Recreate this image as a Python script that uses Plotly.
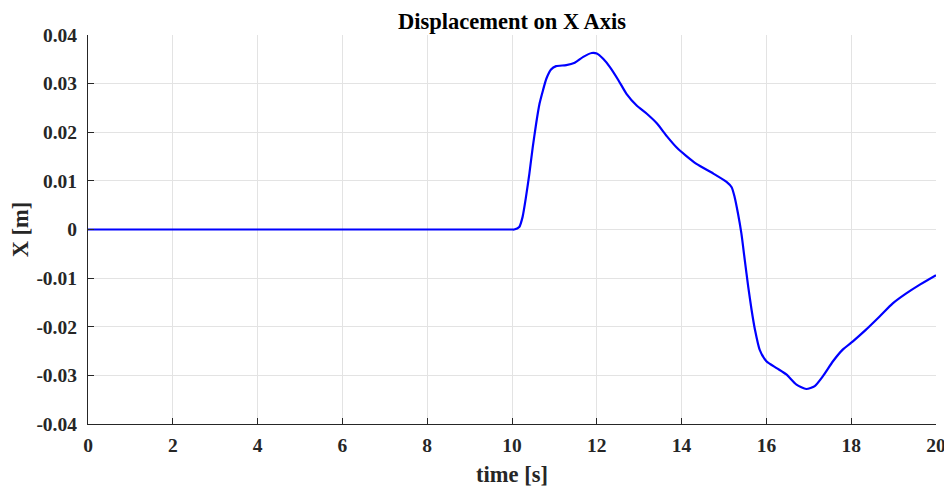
import plotly.graph_objects as go

time_s = [0, 2, 4, 6, 8, 10, 10.05, 10.17, 10.25, 10.33, 10.41, 10.49, 10.57, 10.65, 10.73, 10.81,
          10.92, 11.04, 11.28, 11.48, 11.68, 11.88, 12.0, 12.15, 12.31, 12.51, 12.7, 12.94,
          13.18, 13.42, 13.65, 13.89, 14.1, 14.35, 14.75, 15.06, 15.18, 15.25, 15.33, 15.41,
          15.49, 15.57, 15.65, 15.73, 15.84, 16.0, 16.24, 16.47, 16.71, 16.94, 17.14, 17.33,
          17.57, 17.8, 18.04, 18.35, 18.67, 18.98, 19.29, 19.61, 20.0]
x_m = [0, 0, 0, 0, 0, 0, 0.0, 0.0005, 0.0026, 0.0067, 0.0115, 0.017, 0.0218, 0.0259, 0.0286, 0.031,
       0.0329, 0.0336, 0.0338, 0.0343, 0.0355, 0.0363, 0.0362, 0.0351, 0.0334, 0.0307, 0.0279, 0.0255,
       0.0238, 0.0218, 0.0192, 0.0168, 0.0152, 0.0135, 0.0115, 0.0098, 0.0087, 0.0067, 0.0033, -0.0008,
       -0.0063, -0.0117, -0.0165, -0.0206, -0.0247, -0.0271, -0.0285, -0.0298, -0.0319, -0.0328, -0.0322, -0.0302,
       -0.0271, -0.0247, -0.023, -0.0206, -0.0179, -0.0152, -0.0132, -0.0114, -0.0094]

x_ticks = [0, 2, 4, 6, 8, 10, 12, 14, 16, 18, 20]
y_ticks = [-0.04, -0.03, -0.02, -0.01, 0, 0.01, 0.02, 0.03, 0.04]
y_tick_text = ["-0.04", "-0.03", "-0.02", "-0.01", "0", "0.01", "0.02", "0.03", "0.04"]

fig = go.Figure()
fig.add_trace(go.Scatter(x=time_s, y=x_m, mode="lines",
                         line=dict(color="#0000ff", width=2.2, shape="spline", smoothing=0.6),
                         showlegend=False))

font_family = "Liberation Serif, Times New Roman, serif"
# page body has an 8px margin, so the figure is sized to fill the remaining viewport
fig.update_layout(
    width=944, height=480,
    margin=dict(l=80, r=16, t=27, b=64, autoexpand=False),
    paper_bgcolor="white", plot_bgcolor="white",
    font=dict(family=font_family, color="#262626", size=19.5),
    title=dict(text="<b>Displacement on X Axis</b>", x=0.5, xref="paper", xanchor="center",
               yref="container", y=1 - 13 / 480, yanchor="middle",
               font=dict(family=font_family, size=22.5, color="black")),
)
fig.update_xaxes(range=[0, 20], tickvals=x_ticks, ticktext=[f"<b>{v}</b>" for v in x_ticks],
                 automargin=False,
                 showgrid=True, gridcolor="#e3e3e3", gridwidth=1, zeroline=False,
                 showline=True, linecolor="#262626", linewidth=1.2,
                 ticks="inside", ticklen=6, tickcolor="#262626", ticklabelstandoff=3,
                 title=dict(text="<b>time [s]</b>", standoff=11, font=dict(size=22.5, color="#262626")))
fig.update_yaxes(range=[-0.04, 0.04], tickvals=y_ticks, ticktext=[f"<b>{t}</b>" for t in y_tick_text],
                 automargin=False,
                 showgrid=True, gridcolor="#e3e3e3", gridwidth=1, zeroline=False,
                 showline=True, linecolor="#262626", linewidth=1.2,
                 ticks="inside", ticklen=6, tickcolor="#262626", ticklabelstandoff=6,
                 title=dict(text="<b>X [m]</b>", standoff=5, font=dict(size=22.5, color="#262626")))

fig.write_html("out.html")
